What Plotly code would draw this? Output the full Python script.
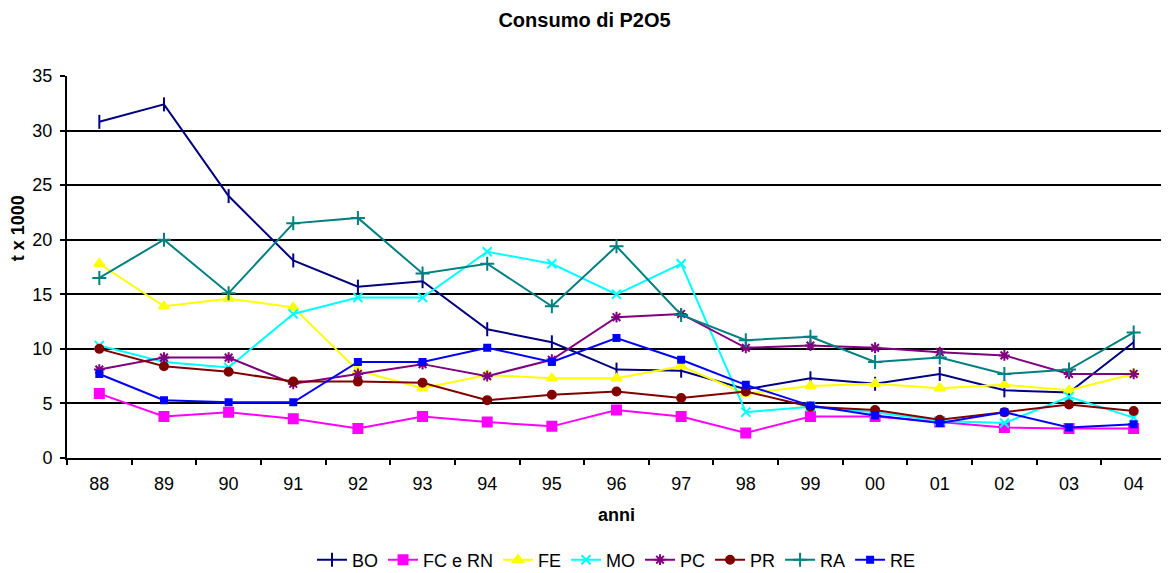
import plotly.graph_objects as go

anni = ["88", "89", "90", "91", "92", "93", "94", "95", "96", "97", "98", "99", "00", "01", "02", "03", "04"]

BO = [30.8, 32.4, 24.0, 18.1, 15.7, 16.2, 11.8, 10.6, 8.1, 8.0, 6.3, 7.3, 6.8, 7.7, 6.2, 6.0, 10.6]
FC_RN = [5.9, 3.8, 4.2, 3.6, 2.7, 3.8, 3.3, 2.9, 4.4, 3.8, 2.3, 3.8, 3.8, 3.3, 2.8, 2.7, 2.7]
FE = [17.8, 13.9, 14.6, 13.8, 8.0, 6.4, 7.6, 7.3, 7.3, 8.4, 5.9, 6.6, 6.8, 6.4, 6.7, 6.2, 7.7]
MO = [10.3, 8.8, 8.3, 13.2, 14.7, 14.7, 18.9, 17.8, 15.0, 17.8, 4.2, 4.7, 4.2, 3.4, 3.2, 5.6, 3.7]
PC = [8.1, 9.2, 9.2, 6.8, 7.7, 8.6, 7.5, 9.0, 12.9, 13.2, 10.1, 10.3, 10.1, 9.7, 9.4, 7.7, 7.7]
PR = [10.0, 8.4, 7.9, 7.0, 7.0, 6.9, 5.3, 5.8, 6.1, 5.5, 6.1, 4.7, 4.4, 3.5, 4.2, 4.9, 4.3]
RA = [16.5, 20.0, 15.1, 21.5, 22.0, 16.9, 17.8, 13.9, 19.4, 13.1, 10.8, 11.1, 8.8, 9.2, 7.7, 8.1, 11.5]
RE = [7.7, 5.3, 5.1, 5.1, 8.8, 8.8, 10.1, 8.8, 11.0, 9.0, 6.7, 4.8, 3.9, 3.2, 4.2, 2.8, 3.1]

series = [
    ("BO", BO, "#000080", "line-ns-open", 10),
    ("FC e RN", FC_RN, "#FF00FF", "square", 9),
    ("FE", FE, "#FFFF00", "triangle-up", 9),
    ("MO", MO, "#00FFFF", "x-thin-open", 9),
    ("PC", PC, "#800080", "asterisk-open", 9),
    ("PR", PR, "#800000", "circle", 8),
    ("RA", RA, "#008080", "cross-thin-open", 10),
    ("RE", RE, "#0000FF", "square", 6),
]

fig = go.Figure()
for name, vals, color, sym, size in series:
    fig.add_trace(go.Scatter(
        x=anni, y=vals, name=name, mode="lines+markers",
        line=dict(color=color, width=2),
        marker=dict(symbol=sym, size=size, color=color,
                    line=dict(color=color, width=2)),
    ))

fig.update_layout(
    width=1161, height=565,
    paper_bgcolor="white", plot_bgcolor="white",
    margin=dict(l=59, r=3, t=68, b=115, autoexpand=False),
    font=dict(family="Liberation Sans, Arial, sans-serif", size=18, color="black"),
    title=dict(text="<b>Consumo di P2O5</b>", x=0.4966, xanchor="center", xref="container",
               y=1.0, yanchor="top", yref="container", pad=dict(t=5), font=dict(size=20)),
    showlegend=True,
    legend=dict(orientation="h", x=0.5, xanchor="center", y=-0.267, yanchor="middle",
                font=dict(size=18), tracegroupgap=0),
    xaxis=dict(
        type="category", range=[-0.5, 16.5],
        showline=True, linecolor="black", linewidth=2,
        ticks="outside", tickson="boundaries", ticklen=5, tickcolor="black", tickwidth=2,
        showgrid=False, automargin=False,
        ticklabelstandoff=8,
        tickfont=dict(size=18),
    ),
    yaxis=dict(
        range=[0, 35], dtick=5,
        showline=True, linecolor="black", linewidth=2,
        ticks="outside", ticklen=5, tickcolor="black", tickwidth=2,
        showgrid=True, gridcolor="black", gridwidth=2,
        zeroline=False, automargin=False,
        ticklabelstandoff=4,
        tickfont=dict(size=18),
    ),
    annotations=[
        dict(text="<b>anni</b>", xref="paper", yref="paper", x=0.5, y=-0.149,
             xanchor="center", yanchor="middle", showarrow=False, font=dict(size=18)),
        dict(text="<b>t x 1000</b>", xref="paper", yref="paper", x=-0.045, y=0.60,
             xanchor="center", yanchor="middle", textangle=-90, showarrow=False,
             font=dict(size=18)),
    ],
)

fig.write_html("out.html")
